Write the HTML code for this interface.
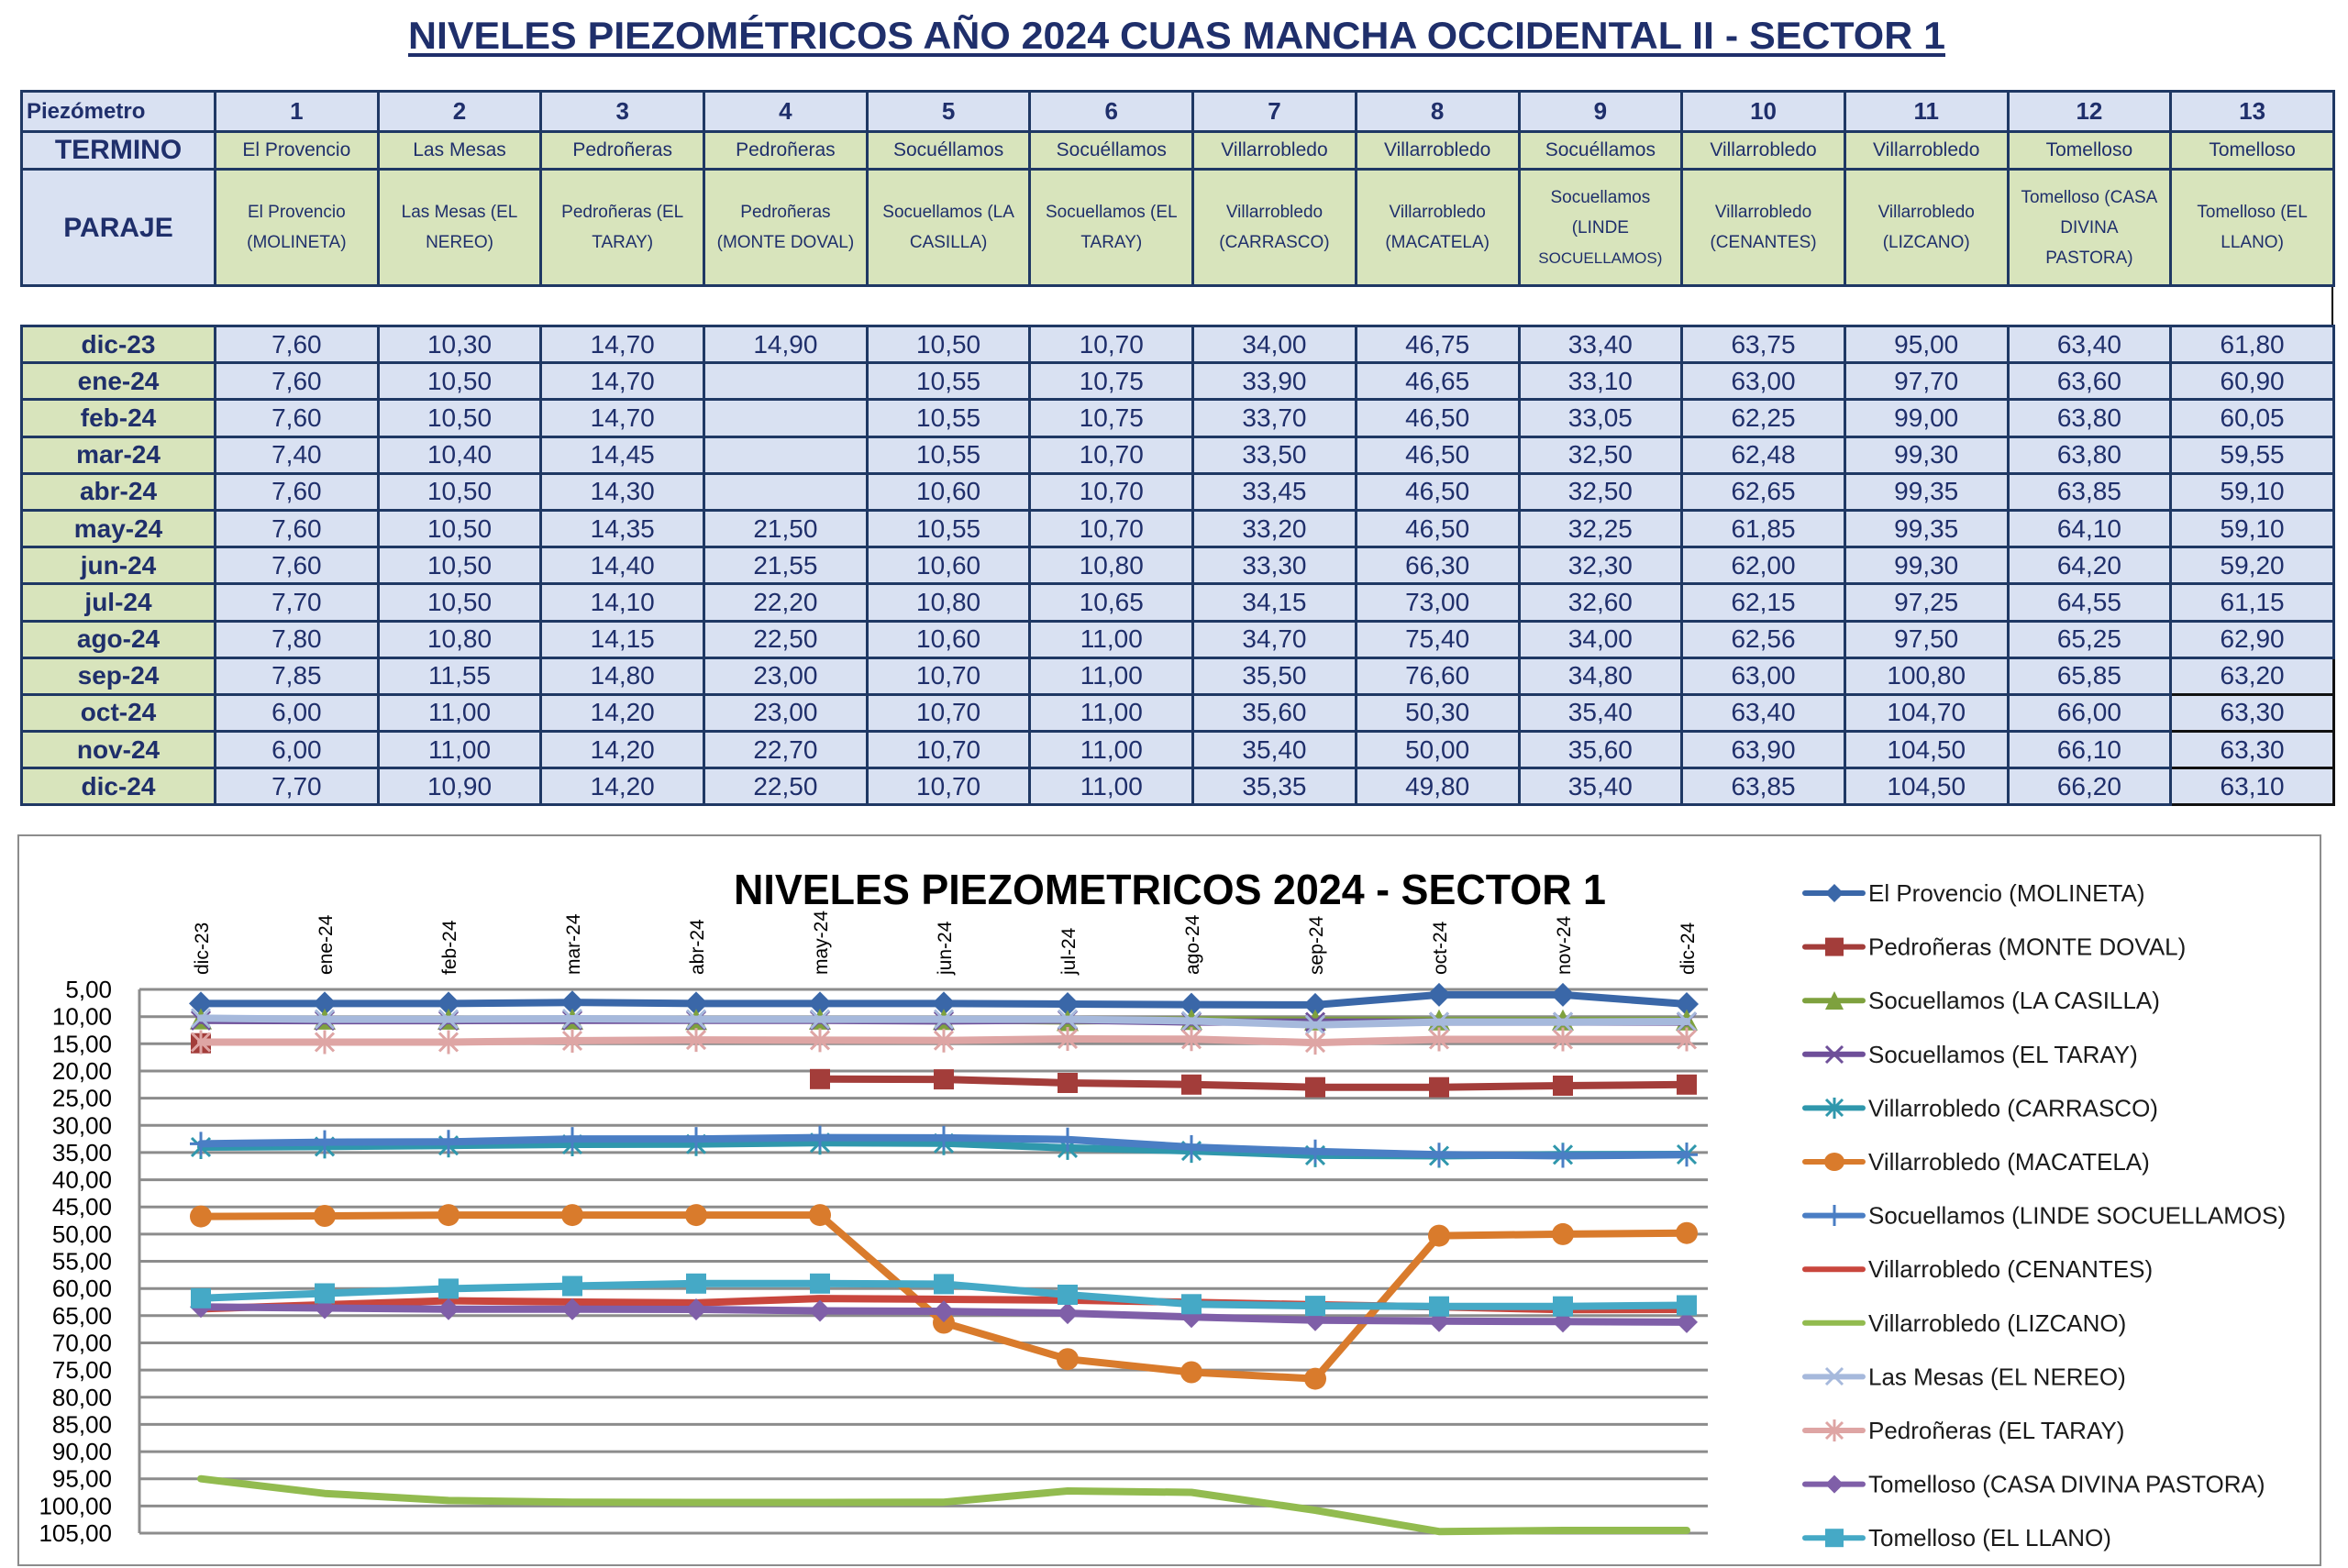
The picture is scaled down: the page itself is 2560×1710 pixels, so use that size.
<!DOCTYPE html>
<html><head><meta charset="utf-8"><style>
body{margin:0;width:2560px;height:1710px;background:#fff;position:relative;overflow:hidden;font-family:"Liberation Sans",sans-serif;}
table{position:absolute;left:22px;border-collapse:collapse;table-layout:fixed;width:2521px;color:#1f2f6b;}
td{border:3px solid #1f3864;text-align:center;padding:0;overflow:hidden;white-space:nowrap;}
.b{background:#d9e1f2}.g{background:#d8e4bc}
#h td{font-size:21px}
#h tr.n td{font-size:26px;font-weight:bold}
#h tr.p td{font-size:19px;line-height:33px;white-space:normal}
#d tr{height:40.2px}
#d td{font-size:28px;line-height:34px}
#d td.g{font-weight:bold}
svg{position:absolute;left:0;top:0}
</style></head><body>
<svg width="2560" height="1710" viewBox="0 0 2560 1710">
<text x="445" y="53" font-family="Liberation Sans" font-weight="bold" font-size="42" fill="#1f2f6b" textLength="1676" lengthAdjust="spacingAndGlyphs">NIVELES PIEZOMÉTRICOS AÑO 2024 CUAS MANCHA OCCIDENTAL II - SECTOR 1</text>
<rect x="445" y="58" width="1676" height="4" fill="#1f2f6b"/>
<line x1="2543" y1="310" x2="2543" y2="355" stroke="#000" stroke-width="2"/>
</svg>
<table id="h" style="top:98px">
<colgroup><col style="width:211px"><col span="13" style="width:177.7px"></colgroup>
<tr class="n" style="height:44px"><td class="b" style="text-align:left;font-size:24px;padding-left:4px">Piezómetro</td><td class="b">1</td><td class="b">2</td><td class="b">3</td><td class="b">4</td><td class="b">5</td><td class="b">6</td><td class="b">7</td><td class="b">8</td><td class="b">9</td><td class="b">10</td><td class="b">11</td><td class="b">12</td><td class="b">13</td></tr>
<tr style="height:41px"><td class="b" style="font-size:30px;font-weight:bold">TERMINO</td><td class="g">El Provencio</td><td class="g">Las Mesas</td><td class="g">Pedroñeras</td><td class="g">Pedroñeras</td><td class="g">Socuéllamos</td><td class="g">Socuéllamos</td><td class="g">Villarrobledo</td><td class="g">Villarrobledo</td><td class="g">Socuéllamos</td><td class="g">Villarrobledo</td><td class="g">Villarrobledo</td><td class="g">Tomelloso</td><td class="g">Tomelloso</td></tr>
<tr class="p" style="height:127px"><td class="b" style="font-size:30px;font-weight:bold">PARAJE</td><td class="g">El Provencio<br>(MOLINETA)</td><td class="g">Las Mesas (EL<br>NEREO)</td><td class="g">Pedroñeras (EL<br>TARAY)</td><td class="g">Pedroñeras<br>(MONTE DOVAL)</td><td class="g">Socuellamos (LA<br>CASILLA)</td><td class="g">Socuellamos (EL<br>TARAY)</td><td class="g">Villarrobledo<br>(CARRASCO)</td><td class="g">Villarrobledo<br>(MACATELA)</td><td class="g">Socuellamos<br>(LINDE<br><span style="font-size:17px">SOCUELLAMOS)</span></td><td class="g">Villarrobledo<br>(CENANTES)</td><td class="g">Villarrobledo<br>(LIZCANO)</td><td class="g">Tomelloso (CASA<br>DIVINA<br>PASTORA)</td><td class="g">Tomelloso (EL<br>LLANO)</td></tr>
</table>
<table id="d" style="top:354px">
<colgroup><col style="width:211px"><col span="13" style="width:177.7px"></colgroup>
<tr><td class="g">dic-23</td><td class="b">7,60</td><td class="b">10,30</td><td class="b">14,70</td><td class="b">14,90</td><td class="b">10,50</td><td class="b">10,70</td><td class="b">34,00</td><td class="b">46,75</td><td class="b">33,40</td><td class="b">63,75</td><td class="b">95,00</td><td class="b">63,40</td><td class="b">61,80</td></tr>
<tr><td class="g">ene-24</td><td class="b">7,60</td><td class="b">10,50</td><td class="b">14,70</td><td class="b"></td><td class="b">10,55</td><td class="b">10,75</td><td class="b">33,90</td><td class="b">46,65</td><td class="b">33,10</td><td class="b">63,00</td><td class="b">97,70</td><td class="b">63,60</td><td class="b">60,90</td></tr>
<tr><td class="g">feb-24</td><td class="b">7,60</td><td class="b">10,50</td><td class="b">14,70</td><td class="b"></td><td class="b">10,55</td><td class="b">10,75</td><td class="b">33,70</td><td class="b">46,50</td><td class="b">33,05</td><td class="b">62,25</td><td class="b">99,00</td><td class="b">63,80</td><td class="b">60,05</td></tr>
<tr><td class="g">mar-24</td><td class="b">7,40</td><td class="b">10,40</td><td class="b">14,45</td><td class="b"></td><td class="b">10,55</td><td class="b">10,70</td><td class="b">33,50</td><td class="b">46,50</td><td class="b">32,50</td><td class="b">62,48</td><td class="b">99,30</td><td class="b">63,80</td><td class="b">59,55</td></tr>
<tr><td class="g">abr-24</td><td class="b">7,60</td><td class="b">10,50</td><td class="b">14,30</td><td class="b"></td><td class="b">10,60</td><td class="b">10,70</td><td class="b">33,45</td><td class="b">46,50</td><td class="b">32,50</td><td class="b">62,65</td><td class="b">99,35</td><td class="b">63,85</td><td class="b">59,10</td></tr>
<tr><td class="g">may-24</td><td class="b">7,60</td><td class="b">10,50</td><td class="b">14,35</td><td class="b">21,50</td><td class="b">10,55</td><td class="b">10,70</td><td class="b">33,20</td><td class="b">46,50</td><td class="b">32,25</td><td class="b">61,85</td><td class="b">99,35</td><td class="b">64,10</td><td class="b">59,10</td></tr>
<tr><td class="g">jun-24</td><td class="b">7,60</td><td class="b">10,50</td><td class="b">14,40</td><td class="b">21,55</td><td class="b">10,60</td><td class="b">10,80</td><td class="b">33,30</td><td class="b">66,30</td><td class="b">32,30</td><td class="b">62,00</td><td class="b">99,30</td><td class="b">64,20</td><td class="b">59,20</td></tr>
<tr><td class="g">jul-24</td><td class="b">7,70</td><td class="b">10,50</td><td class="b">14,10</td><td class="b">22,20</td><td class="b">10,80</td><td class="b">10,65</td><td class="b">34,15</td><td class="b">73,00</td><td class="b">32,60</td><td class="b">62,15</td><td class="b">97,25</td><td class="b">64,55</td><td class="b">61,15</td></tr>
<tr><td class="g">ago-24</td><td class="b">7,80</td><td class="b">10,80</td><td class="b">14,15</td><td class="b">22,50</td><td class="b">10,60</td><td class="b">11,00</td><td class="b">34,70</td><td class="b">75,40</td><td class="b">34,00</td><td class="b">62,56</td><td class="b">97,50</td><td class="b">65,25</td><td class="b">62,90</td></tr>
<tr><td class="g">sep-24</td><td class="b">7,85</td><td class="b">11,55</td><td class="b">14,80</td><td class="b">23,00</td><td class="b">10,70</td><td class="b">11,00</td><td class="b">35,50</td><td class="b">76,60</td><td class="b">34,80</td><td class="b">63,00</td><td class="b">100,80</td><td class="b">65,85</td><td class="b" style="border-color:#111">63,20</td></tr>
<tr><td class="g">oct-24</td><td class="b">6,00</td><td class="b">11,00</td><td class="b">14,20</td><td class="b">23,00</td><td class="b">10,70</td><td class="b">11,00</td><td class="b">35,60</td><td class="b">50,30</td><td class="b">35,40</td><td class="b">63,40</td><td class="b">104,70</td><td class="b">66,00</td><td class="b" style="border-color:#111">63,30</td></tr>
<tr><td class="g">nov-24</td><td class="b">6,00</td><td class="b">11,00</td><td class="b">14,20</td><td class="b">22,70</td><td class="b">10,70</td><td class="b">11,00</td><td class="b">35,40</td><td class="b">50,00</td><td class="b">35,60</td><td class="b">63,90</td><td class="b">104,50</td><td class="b">66,10</td><td class="b" style="border-color:#111">63,30</td></tr>
<tr><td class="g">dic-24</td><td class="b">7,70</td><td class="b">10,90</td><td class="b">14,20</td><td class="b">22,50</td><td class="b">10,70</td><td class="b">11,00</td><td class="b">35,35</td><td class="b">49,80</td><td class="b">35,40</td><td class="b">63,85</td><td class="b">104,50</td><td class="b">66,20</td><td class="b" style="border-color:#111">63,10</td></tr>
</table>

<svg width="2560" height="1710" viewBox="0 0 2560 1710" style="top:0">
<defs>
<marker id="mDia" markerUnits="userSpaceOnUse" markerWidth="30" markerHeight="30" refX="15" refY="15" overflow="visible"><polygon points="15,2 28,15 15,28 2,15" fill="#3a67a8"/></marker>
<marker id="mDiaP" markerUnits="userSpaceOnUse" markerWidth="30" markerHeight="30" refX="15" refY="15" overflow="visible"><polygon points="15,3 27,15 15,27 3,15" fill="#7f5fa8"/></marker>
<marker id="mSqR" markerUnits="userSpaceOnUse" markerWidth="30" markerHeight="30" refX="15" refY="15" overflow="visible"><rect x="4" y="4" width="22" height="22" fill="#a33d3a"/></marker>
<marker id="mSqC" markerUnits="userSpaceOnUse" markerWidth="30" markerHeight="30" refX="15" refY="15" overflow="visible"><rect x="4" y="4" width="22" height="22" fill="#45a9c6"/></marker>
<marker id="mTri" markerUnits="userSpaceOnUse" markerWidth="30" markerHeight="30" refX="15" refY="15" overflow="visible"><polygon points="15,3 27,26 3,26" fill="#7ea13e"/></marker>
<marker id="mCir" markerUnits="userSpaceOnUse" markerWidth="30" markerHeight="30" refX="15" refY="15" overflow="visible"><circle cx="15" cy="15" r="12" fill="#d97b2c"/></marker>
<marker id="mXP" markerUnits="userSpaceOnUse" markerWidth="30" markerHeight="30" refX="15" refY="15" overflow="visible"><path d="M5,5L25,25M25,5L5,25" stroke="#6e4f99" stroke-width="3"/></marker>
<marker id="mXL" markerUnits="userSpaceOnUse" markerWidth="30" markerHeight="30" refX="15" refY="15" overflow="visible"><path d="M5,5L25,25M25,5L5,25" stroke="#a6b9dc" stroke-width="3"/></marker>
<marker id="mStT" markerUnits="userSpaceOnUse" markerWidth="30" markerHeight="30" refX="15" refY="15" overflow="visible"><path d="M5,5L25,25M25,5L5,25M15,2L15,28" stroke="#2f97ac" stroke-width="3"/></marker>
<marker id="mStP" markerUnits="userSpaceOnUse" markerWidth="30" markerHeight="30" refX="15" refY="15" overflow="visible"><path d="M5,5L25,25M25,5L5,25M15,2L15,28" stroke="#dea5a4" stroke-width="3"/></marker>
<marker id="mPl" markerUnits="userSpaceOnUse" markerWidth="30" markerHeight="30" refX="15" refY="15" overflow="visible"><path d="M15,2L15,28M3,15L27,15" stroke="#4a7ec4" stroke-width="3"/></marker>
</defs>
<rect x="20" y="911" width="2510" height="796" fill="none" stroke="#8c8c8c" stroke-width="2"/>
<text x="800" y="986" font-family="Liberation Sans" font-weight="bold" font-size="46" fill="#000" textLength="951" lengthAdjust="spacingAndGlyphs">NIVELES PIEZOMETRICOS 2024 - SECTOR 1</text>
<g stroke="#8c8c8c" stroke-width="3">
<line x1="152" y1="1079" x2="1862" y2="1079"/><line x1="152" y1="1108.7" x2="1862" y2="1108.7"/><line x1="152" y1="1138.3" x2="1862" y2="1138.3"/><line x1="152" y1="1168" x2="1862" y2="1168"/><line x1="152" y1="1197.6" x2="1862" y2="1197.6"/><line x1="152" y1="1227.3" x2="1862" y2="1227.3"/><line x1="152" y1="1256.9" x2="1862" y2="1256.9"/><line x1="152" y1="1286.6" x2="1862" y2="1286.6"/><line x1="152" y1="1316.2" x2="1862" y2="1316.2"/><line x1="152" y1="1345.9" x2="1862" y2="1345.9"/><line x1="152" y1="1375.5" x2="1862" y2="1375.5"/><line x1="152" y1="1405.2" x2="1862" y2="1405.2"/><line x1="152" y1="1434.8" x2="1862" y2="1434.8"/><line x1="152" y1="1464.5" x2="1862" y2="1464.5"/><line x1="152" y1="1494.1" x2="1862" y2="1494.1"/><line x1="152" y1="1523.8" x2="1862" y2="1523.8"/><line x1="152" y1="1553.4" x2="1862" y2="1553.4"/><line x1="152" y1="1583.1" x2="1862" y2="1583.1"/><line x1="152" y1="1612.7" x2="1862" y2="1612.7"/><line x1="152" y1="1642.4" x2="1862" y2="1642.4"/><line x1="152" y1="1672" x2="1862" y2="1672"/>
<line x1="152" y1="1079" x2="152" y2="1672"/>
</g>
<g font-family="Liberation Sans" font-size="26" fill="#000" text-anchor="end">
<text x="122" y="1088">5,00</text><text x="122" y="1117.7">10,00</text><text x="122" y="1147.3">15,00</text><text x="122" y="1177">20,00</text><text x="122" y="1206.6">25,00</text><text x="122" y="1236.3">30,00</text><text x="122" y="1265.9">35,00</text><text x="122" y="1295.6">40,00</text><text x="122" y="1325.2">45,00</text><text x="122" y="1354.9">50,00</text><text x="122" y="1384.5">55,00</text><text x="122" y="1414.2">60,00</text><text x="122" y="1443.8">65,00</text><text x="122" y="1473.5">70,00</text><text x="122" y="1503.1">75,00</text><text x="122" y="1532.8">80,00</text><text x="122" y="1562.4">85,00</text><text x="122" y="1592.1">90,00</text><text x="122" y="1621.7">95,00</text><text x="122" y="1651.4">100,00</text><text x="122" y="1681">105,00</text>
</g>
<g font-family="Liberation Sans" font-size="21" fill="#000" text-anchor="start">
<text transform="translate(227,1063) rotate(-90)">dic-23</text><text transform="translate(362,1063) rotate(-90)">ene-24</text><text transform="translate(497,1063) rotate(-90)">feb-24</text><text transform="translate(632,1063) rotate(-90)">mar-24</text><text transform="translate(767,1063) rotate(-90)">abr-24</text><text transform="translate(902,1063) rotate(-90)">may-24</text><text transform="translate(1037,1063) rotate(-90)">jun-24</text><text transform="translate(1172,1063) rotate(-90)">jul-24</text><text transform="translate(1307,1063) rotate(-90)">ago-24</text><text transform="translate(1442,1063) rotate(-90)">sep-24</text><text transform="translate(1577,1063) rotate(-90)">oct-24</text><text transform="translate(1712,1063) rotate(-90)">nov-24</text><text transform="translate(1847,1063) rotate(-90)">dic-24</text>
</g>
<g fill="none" stroke-width="8" stroke-linejoin="round" stroke-linecap="round">
<polyline stroke="#3a67a8" marker-start="url(#mDia)" marker-mid="url(#mDia)" marker-end="url(#mDia)" points="219,1094.4 354,1094.4 489,1094.4 624,1093.2 759,1094.4 894,1094.4 1029,1094.4 1164,1095 1299,1095.6 1434,1095.9 1569,1084.9 1704,1084.9 1839,1095"/>
<polyline stroke="#a33d3a" marker-start="url(#mSqR)" marker-mid="url(#mSqR)" marker-end="url(#mSqR)" points="894,1176.8 1029,1177.1 1164,1181 1299,1182.8 1434,1185.7 1569,1185.7 1704,1184 1839,1182.8"/>
<rect x="208" y="1126.7" width="22" height="22" fill="#a33d3a" stroke="none"/>
<polyline stroke="#7ea13e" marker-start="url(#mTri)" marker-mid="url(#mTri)" marker-end="url(#mTri)" points="219,1111.6 354,1111.9 489,1111.9 624,1111.9 759,1112.2 894,1111.9 1029,1112.2 1164,1113.4 1299,1112.2 1434,1112.8 1569,1112.8 1704,1112.8 1839,1112.8"/>
<polyline stroke="#6e4f99" marker-start="url(#mXP)" marker-mid="url(#mXP)" marker-end="url(#mXP)" points="219,1112.8 354,1113.1 489,1113.1 624,1112.8 759,1112.8 894,1112.8 1029,1113.4 1164,1112.5 1299,1114.6 1434,1114.6 1569,1114.6 1704,1114.6 1839,1114.6"/>
<polyline stroke="#2f97ac" marker-start="url(#mStT)" marker-mid="url(#mStT)" marker-end="url(#mStT)" points="219,1251 354,1250.4 489,1249.2 624,1248 759,1247.7 894,1246.2 1029,1246.8 1164,1251.9 1299,1255.1 1434,1259.9 1569,1260.5 1704,1259.3 1839,1259"/>
<polyline stroke="#d97b2c" marker-start="url(#mCir)" marker-mid="url(#mCir)" marker-end="url(#mCir)" points="219,1326.6 354,1326 489,1325.1 624,1325.1 759,1325.1 894,1325.1 1029,1442.5 1164,1482.2 1299,1496.5 1434,1503.6 1569,1347.6 1704,1345.9 1839,1344.7"/>
<polyline stroke="#4a7ec4" marker-start="url(#mPl)" marker-mid="url(#mPl)" marker-end="url(#mPl)" points="219,1247.4 354,1245.6 489,1245.3 624,1242.1 759,1242.1 894,1240.6 1029,1240.9 1164,1242.7 1299,1251 1434,1255.7 1569,1259.3 1704,1260.5 1839,1259.3"/>
<polyline stroke="#c9463d" points="219,1427.4 354,1422.9 489,1418.5 624,1419.9 759,1420.9 894,1416.1 1029,1417 1164,1417.9 1299,1420.3 1434,1422.9 1569,1425.3 1704,1428.3 1839,1428"/>
<polyline stroke="#92bb4f" points="219,1612.7 354,1628.7 489,1636.4 624,1638.2 759,1638.5 894,1638.5 1029,1638.2 1164,1626 1299,1627.5 1434,1647.1 1569,1670.2 1704,1669 1839,1669"/>
<polyline stroke="#a6b9dc" marker-start="url(#mXL)" marker-mid="url(#mXL)" marker-end="url(#mXL)" points="219,1110.4 354,1111.6 489,1111.6 624,1111 759,1111.6 894,1111.6 1029,1111.6 1164,1111.6 1299,1113.4 1434,1117.8 1569,1114.6 1704,1114.6 1839,1114"/>
<polyline stroke="#dea5a4" marker-start="url(#mStP)" marker-mid="url(#mStP)" marker-end="url(#mStP)" points="219,1136.5 354,1136.5 489,1136.5 624,1135 759,1134.1 894,1134.4 1029,1134.7 1164,1133 1299,1133.3 1434,1137.1 1569,1133.5 1704,1133.5 1839,1133.5"/>
<polyline stroke="#7f5fa8" marker-start="url(#mDiaP)" marker-mid="url(#mDiaP)" marker-end="url(#mDiaP)" points="219,1425.3 354,1426.5 489,1427.7 624,1427.7 759,1428 894,1429.5 1029,1430.1 1164,1432.1 1299,1436.3 1434,1439.8 1569,1440.7 1704,1441.3 1839,1441.9"/>
<polyline stroke="#45a9c6" marker-start="url(#mSqC)" marker-mid="url(#mSqC)" marker-end="url(#mSqC)" points="219,1415.8 354,1410.5 489,1405.4 624,1402.5 759,1399.8 894,1399.8 1029,1400.4 1164,1412 1299,1422.3 1434,1424.1 1569,1424.7 1704,1424.7 1839,1423.5"/>
</g>
<g stroke-width="6" stroke-linecap="round" fill="none">
<line x1="1968" y1="974" x2="2031" y2="974" stroke="#3a67a8"/>
<line x1="1968" y1="1032.6" x2="2031" y2="1032.6" stroke="#a33d3a"/>
<line x1="1968" y1="1091.2" x2="2031" y2="1091.2" stroke="#7ea13e"/>
<line x1="1968" y1="1149.8" x2="2031" y2="1149.8" stroke="#6e4f99"/>
<line x1="1968" y1="1208.4" x2="2031" y2="1208.4" stroke="#2f97ac"/>
<line x1="1968" y1="1267" x2="2031" y2="1267" stroke="#d97b2c"/>
<line x1="1968" y1="1325.6" x2="2031" y2="1325.6" stroke="#4a7ec4"/>
<line x1="1968" y1="1384.2" x2="2031" y2="1384.2" stroke="#c9463d"/>
<line x1="1968" y1="1442.8" x2="2031" y2="1442.8" stroke="#92bb4f"/>
<line x1="1968" y1="1501.4" x2="2031" y2="1501.4" stroke="#a6b9dc"/>
<line x1="1968" y1="1560" x2="2031" y2="1560" stroke="#dea5a4"/>
<line x1="1968" y1="1618.6" x2="2031" y2="1618.6" stroke="#7f5fa8"/>
<line x1="1968" y1="1677.2" x2="2031" y2="1677.2" stroke="#45a9c6"/>
</g>
<g>
<polygon points="2000,964 2010,974 2000,984 1990,974" fill="#3a67a8"/>
<rect x="1990" y="1022.6" width="20" height="20" fill="#a33d3a"/>
<polygon points="2000,1081 2010,1101 1990,1101" fill="#7ea13e"/>
<path d="M1991,1141L2009,1159M2009,1141L1991,1159" stroke="#6e4f99" stroke-width="3"/>
<path d="M1991,1199L2009,1217M2009,1199L1991,1217M2000,1197L2000,1220" stroke="#2f97ac" stroke-width="3"/>
<ellipse cx="2000" cy="1267" rx="11" ry="10" fill="#d97b2c"/>
<path d="M2000,1314L2000,1337" stroke="#4a7ec4" stroke-width="3"/>
<path d="M1991,1492L2009,1510M2009,1492L1991,1510" stroke="#a6b9dc" stroke-width="3"/>
<path d="M1991,1551L2009,1569M2009,1551L1991,1569M2000,1548L2000,1572" stroke="#dea5a4" stroke-width="3"/>
<polygon points="2000,1608.6 2010,1618.6 2000,1628.6 1990,1618.6" fill="#7f5fa8"/>
<rect x="1990" y="1667.2" width="20" height="20" fill="#45a9c6"/>
</g>
<g font-family="Liberation Sans" font-size="26" fill="#1a1a1a">
<text x="2037" y="983">El Provencio (MOLINETA)</text>
<text x="2037" y="1041.6">Pedroñeras (MONTE DOVAL)</text>
<text x="2037" y="1100.2">Socuellamos  (LA CASILLA)</text>
<text x="2037" y="1158.8">Socuellamos (EL TARAY)</text>
<text x="2037" y="1217.4">Villarrobledo (CARRASCO)</text>
<text x="2037" y="1276">Villarrobledo (MACATELA)</text>
<text x="2037" y="1334.6">Socuellamos (LINDE SOCUELLAMOS)</text>
<text x="2037" y="1393.2">Villarrobledo  (CENANTES)</text>
<text x="2037" y="1451.8">Villarrobledo (LIZCANO)</text>
<text x="2037" y="1510.4">Las Mesas (EL NEREO)</text>
<text x="2037" y="1569">Pedroñeras (EL TARAY)</text>
<text x="2037" y="1627.6">Tomelloso (CASA DIVINA PASTORA)</text>
<text x="2037" y="1686.2">Tomelloso (EL LLANO)</text>
</g>
</svg>
</body></html>
